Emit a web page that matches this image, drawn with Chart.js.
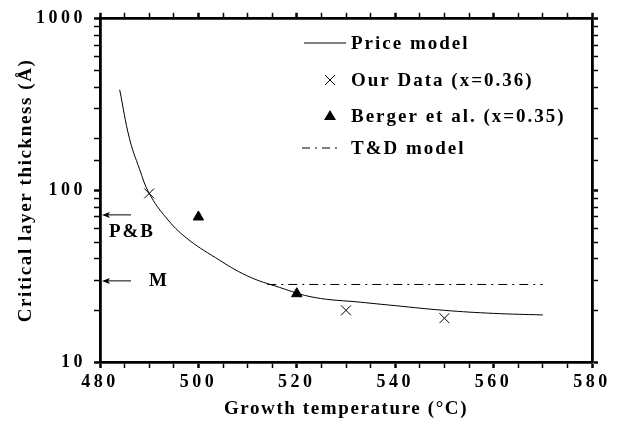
<!DOCTYPE html>
<html>
<head>
<meta charset="utf-8">
<script src="https://cdn.jsdelivr.net/npm/chart.js@4/dist/chart.umd.min.js"></script>
<style>
  html, body { margin: 0; padding: 0; background: #fff; }
  #wrap { width: 621px; height: 425px; }
</style>
</head>
<body>
<div id="wrap"><canvas id="plot" width="621" height="425"></canvas></div>
<script>
// Price model curve (growth temperature °C, thickness Å)
const priceT = [484, 486, 488, 490, 493.5, 497.5, 503.5, 510, 516.5, 523.5, 533, 540, 550, 560, 570];
const priceD = [386, 200, 134, 96, 69, 53, 40.5, 31.7, 27.2, 23.8, 22.3, 21.3, 20, 19.2, 18.8];
// Our Data (x=0.36)
const ourT = [490, 530, 550];
const ourD = [96, 20, 18];
// Berger et al. (x=0.35)
const bergerT = [500, 520];
const bergerD = [70, 25];
// T&D model
const tdT = [514, 570];
const tdD = [28.3, 28.3];
// arrows on the left axis
const arrowNames = ['P&B', 'M'];
const arrowLevels = [72, 29.7];
const legendNames = ['Price model', 'Our Data (x=0.36)', 'Berger et al. (x=0.35)', 'T&D model'];

const pts = (xs, ys) => xs.map((x, i) => ({ x: x, y: ys[i] }));
const serif = '"Liberation Serif", "Times New Roman", serif';
const isDecade = v => Math.abs(Math.log10(v) - Math.round(Math.log10(v))) < 1e-6;

const extras = {
    id: 'extras',
    beforeDraw(chart) { chart.ctx.letterSpacing = '1.6px'; },
    afterDatasetsDraw(chart) { chart.ctx.letterSpacing = '3.5px'; },
    afterDraw(chart) {
        const ctx = chart.ctx, xs = chart.scales.x, ys = chart.scales.y;
        ctx.save();
        ctx.letterSpacing = '2px';
        ctx.strokeStyle = '#000';
        ctx.fillStyle = '#000';
        ctx.font = 'bold 19px ' + serif;
        ctx.textBaseline = 'middle';
        // arrows pointing at the left axis
        arrowLevels.forEach((lv, i) => {
            const y = ys.getPixelForValue(lv);
            const x0 = xs.getPixelForValue(480.4), x1 = xs.getPixelForValue(486.3);
            ctx.lineWidth = 1;
            ctx.beginPath(); ctx.moveTo(x0 + 6, y); ctx.lineTo(x1, y); ctx.stroke();
            ctx.beginPath(); ctx.moveTo(x0, y); ctx.lineTo(x0 + 8, y - 3); ctx.lineTo(x0 + 6, y); ctx.lineTo(x0 + 8, y + 3); ctx.closePath(); ctx.fill();
        });
        ctx.textAlign = 'center';
        ctx.fillText(arrowNames[0], xs.getPixelForValue(486.5), ys.getPixelForValue(57.5));
        ctx.fillText(arrowNames[1], xs.getPixelForValue(492), ys.getPixelForValue(29.7));
        // legend
        ctx.textAlign = 'left';
        const lx = 351, rows = [43, 80, 116, 148];
        ctx.lineWidth = 1;
        ctx.beginPath(); ctx.moveTo(304, rows[0]); ctx.lineTo(346, rows[0]); ctx.stroke();
        ctx.beginPath();
        ctx.moveTo(325, rows[1] - 5); ctx.lineTo(335, rows[1] + 5);
        ctx.moveTo(335, rows[1] - 5); ctx.lineTo(325, rows[1] + 5); ctx.stroke();
        ctx.beginPath(); ctx.moveTo(330, rows[2] - 6); ctx.lineTo(336, rows[2] + 4); ctx.lineTo(324, rows[2] + 4); ctx.closePath(); ctx.fill();
        ctx.setLineDash([8, 5, 2, 5]);
        ctx.beginPath(); ctx.moveTo(302, rows[3]); ctx.lineTo(342, rows[3]); ctx.stroke();
        ctx.setLineDash([]);
        legendNames.forEach((t, i) => ctx.fillText(t, lx, rows[i] + 1));
        ctx.restore();
    }
};

const xTicks = {
    min: 480, max: 580,
    border: { display: true, color: '#000', width: 2.8 },
    grid: { drawOnChartArea: false, drawTicks: true, tickLength: 6, tickColor: '#000',
            tickWidth: c => (c.tick && c.tick.value % 20 === 0) ? 2.5 : 1.5 }
};
const yTicks = {
    min: 10, max: 1000,
    border: { display: true, color: '#000', width: 2.8 },
    grid: { drawOnChartArea: false, drawTicks: true, tickLength: 6, tickColor: '#000',
            tickWidth: c => (c.tick && isDecade(c.tick.value)) ? 2.5 : 1.5 }
};

new Chart(document.getElementById('plot'), {
    type: 'scatter',
    data: {
        datasets: [
            { label: 'Price model', data: pts(priceT, priceD), showLine: true, pointRadius: 0,
              borderColor: '#000', borderWidth: 1, tension: 0.4 },
            { label: 'Our Data (x=0.36)', data: pts(ourT, ourD), pointStyle: 'crossRot', pointRadius: 7,
              borderColor: '#000', borderWidth: 1 },
            { label: 'Berger et al. (x=0.35)', data: pts(bergerT, bergerD), pointStyle: 'triangle', pointRadius: 6,
              borderColor: '#000', backgroundColor: '#000', borderWidth: 1 },
            { label: 'T&D model', data: pts(tdT, tdD), showLine: true, pointRadius: 0,
              borderColor: '#000', borderWidth: 1, borderDash: [9, 5, 2, 5] }
        ]
    },
    options: {
        responsive: false,
        animation: false,
        events: [],
        layout: { padding: 0 },
        plugins: { legend: { display: false }, tooltip: { enabled: false } },
        scales: {
            x: { type: 'linear', position: 'bottom', ...xTicks,
                 afterFit: s => { s.height = 63; },
                 ticks: { stepSize: 5, autoSkip: false, maxRotation: 0, padding: 4, z: 1, color: '#000',
                          font: { family: serif, size: 18, weight: 'bold' },
                          callback: v => v % 20 === 0 ? String(v) : '' },
                 title: { display: true, text: 'Growth temperature (°C)', color: '#000',
                          font: { family: serif, size: 19, weight: 'bold' }, padding: { top: 0, bottom: 5 } } },
            x2: { type: 'linear', position: 'top', ...xTicks,
                  afterFit: s => { s.height = 15; },
                  ticks: { stepSize: 5, autoSkip: false, display: false } },
            y: { type: 'logarithmic', position: 'left', ...yTicks,
                 afterFit: s => { s.width = 100; },
                 ticks: { autoSkip: false, padding: 8, z: 1, color: '#000',
                          font: { family: serif, size: 18, weight: 'bold' },
                          callback: v => isDecade(v) ? String(Math.round(v)) : '' },
                 title: { display: true, text: 'Critical layer thickness (Å)', color: '#000',
                          font: { family: serif, size: 19, weight: 'bold' }, padding: { top: 15, bottom: 0 } } },
            y2: { type: 'logarithmic', position: 'right', ...yTicks,
                  afterFit: s => { s.width = 29; },
                  ticks: { autoSkip: false, display: false } }
        }
    },
    plugins: [extras]
});
</script>
</body>
</html>
